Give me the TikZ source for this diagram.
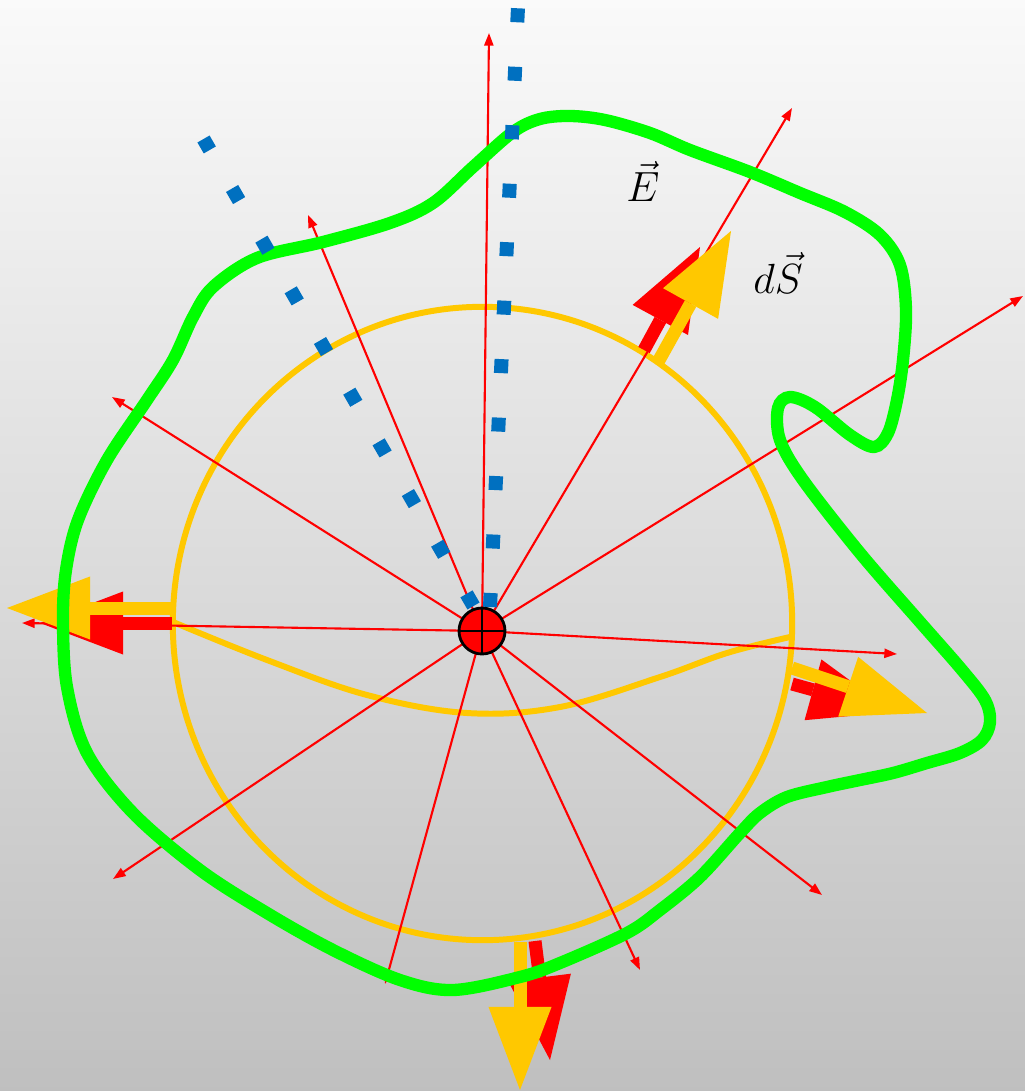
\documentclass[tikz,border=0pt]{standalone}
\usepackage{xcolor}
\usepackage{amsmath}
\usepackage{tikz}
\usetikzlibrary{arrows.meta}

\definecolor{gold}{RGB}{255,200,0}
\definecolor{lime}{RGB}{0,255,0}
\definecolor{dotblue}{RGB}{0,112,192}

\begin{document}
\begin{tikzpicture}[
    x=0.01cm, y=-0.01cm,
    fieldline/.style={draw=red, line width=0.6pt, -{Triangle[width=2.6pt, length=3.6pt]}},
    sphere/.style={draw=gold, line width=1.7pt},
    surface/.style={draw=lime, line width=3.5pt},
    Evec/.style={draw=red, line width=0.13cm, -{Triangle[width=0.63cm, length=0.83cm, line width=0pt]}},
    dSvec/.style={draw=gold, line width=0.13cm, -{Triangle[width=0.63cm, length=0.83cm, line width=0pt]}},
    ghost/.style={draw=dotblue, line width=0.14cm, dash pattern=on 0.14cm off 0.445cm},
    charge/.style={circle, draw=black, fill=red, line width=0.8pt, minimum size=0.46cm, inner sep=0pt},
    sym/.style={font=\fontsize{12}{14}\selectfont, inner sep=0pt}
]

% Background
\useasboundingbox (0,0) rectangle (1025,1091);
\shade[top color=black!2, bottom color=black!25] (0,0) rectangle (1025,1091);

% Sphere
\draw[sphere] (482.5,623.5) ellipse [x radius=3.095cm, y radius=3.165cm];
\draw[sphere] plot[smooth, tension=0.6] coordinates {(173,622) (267,660) (367,695) (467,713) (560,707) (660,677) (727,653) (790,637)};

% Field lines
\coordinate (q) at (482,631);
\foreach \name/\x/\y in {n/489/33, nnw/308/215, wnw/112/397, w/22/623, wsw/113/879,
                         ssw/385/984, sse/640/970, se/822/895, e/897/654, ene/1023/296, nne/792/108} {
    \coordinate (f-\name) at (\x,\y);
    \draw[fieldline] (q) -- (f-\name);
}

% E vectors
\draw[Evec] (644,350) -- (700,247);
\draw[Evec] (172,623) -- (40,623);
\draw[Evec] (792,684) -- (893,712);
\draw[Evec] (535,941) -- (550,1060);

% dS vectors
\draw[dSvec] (658,362) -- (731,231);
\draw[dSvec] (172,608) -- (7,608);
\draw[dSvec] (792,668) -- (927,713);
\draw[dSvec] (520,942) -- (520,1090);

% Gaussian surface
\draw[surface] plot[smooth cycle, tension=0.55] coordinates {
    (513,132) (540,119) (570,116) (605,120) (650,133) (690,150) (750,172) (800,193)
    (845,212) (880,235) (900,265) (906,310) (903,360) (897,400) (888,433) (874,447)
    (850,435) (815,407) (790,397) (778,408) (780,440) (803,480) (860,553) (920,622)
    (962,670) (985,700) (990,722) (982,740) (960,753) (927,763) (893,773)
    (860,780) (827,787) (787,797) (760,813) (740,833) (700,877) (660,910) (627,933)
    (560,963) (520,977) (453,990) (400,980) (333,950) (267,913) (200,870) (133,813)
    (87,753) (67,687) (63,620) (66,570) (78,520) (107,460) (147,400) (173,360)
    (193,317) (213,287) (257,258) (323,242) (390,223) (433,203) (473,167)};

% Dotted guides
\draw[ghost] (490,607) -- (518,7);
\draw[ghost] (473.5,606) -- (203.5,139);

% Charge
\node[charge] (charge) at (q) {};
\draw[line width=0.8pt] (charge.north) -- (charge.south);
\draw[line width=0.8pt] (charge.west) -- (charge.east);

% Labels
\node[sym, anchor=base] (Elabel) at (643,202) {$\vec{E}$};
\node[sym, anchor=base] (dSlabel) at (778,293) {$d\vec{S}$};

\end{tikzpicture}
\end{document}
